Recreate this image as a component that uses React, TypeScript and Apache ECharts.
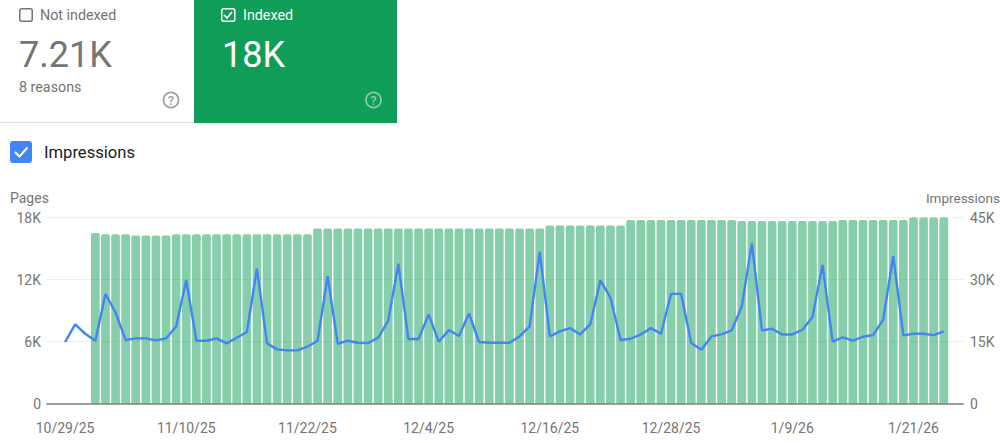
import React, { useEffect, useRef } from "react";
import * as echarts from "echarts";

const tickLabels = ["10/29/25", "11/10/25", "11/22/25", "12/4/25", "12/16/25", "12/28/25", "1/9/26", "1/21/26"];
const dayStep = 12;

const pages: (number | null)[] = [
  null, null, null, 16490, 16390, 16390, 16390, 16260, 16260, 16260, 16260, 16390, 16390, 16390, 16390, 16390,
  16390, 16390, 16390, 16390, 16390, 16390, 16390, 16390, 16390, 16940, 16940, 16940, 16940, 16940, 16940, 16940,
  16940, 16940, 16940, 16940, 16940, 16940, 16940, 16940, 16940, 16940, 16940, 16940, 16940, 16940, 16940, 16940,
  17230, 17230, 17230, 17230, 17230, 17230, 17230, 17230, 17770, 17770, 17770, 17770, 17770, 17770, 17770, 17770,
  17770, 17770, 17770, 17650, 17650, 17650, 17650, 17650, 17650, 17650, 17650, 17650, 17650, 17770, 17770, 17770,
  17770, 17770, 17770, 17770, 18000, 18000, 18000, 18000,
];

const impressions = [
  14870, 19125, 16875, 15190, 26520, 22020, 15350, 15750, 15750, 15270, 15750, 18640, 29890, 15190, 15190, 15750,
  14540, 15910, 17280, 32620, 14540, 13100, 12860, 12860, 13740, 15190, 30780, 14460, 15190, 14700, 14620, 15910,
  20010, 33830, 15590, 15590, 21540, 14950, 17760, 16310, 21780, 14870, 14700, 14700, 14700, 16230, 18640, 36720,
  16230, 17440, 18240, 16710, 19125, 29810, 25630, 15350, 15670, 16710, 18240, 16875, 26520, 26520, 14620, 13020,
  16230, 16710, 17680, 23460, 38730, 17680, 18080, 16710, 16710, 17840, 20890, 33510, 14950, 15990, 15190, 16150,
  16550, 20250, 35680, 16470, 16875, 16875, 16550, 17440,
];

const dates = impressions.map((_, i) =>
  i % dayStep === 0 ? tickLabels[i / dayStep] : `day ${i}`
);

const FONT = "Roboto";
const GREY = "#757575";
const checkPts = (x: number, y: number) => [[x + 3, y + 7], [x + 6, y + 10], [x + 11, y + 4]];

const txt = (x: number, y: number, text: string, size: number, fill: string, verticalAlign = "middle", align = "left") => ({
  type: "text", x, y,
  style: { text, fontSize: size, fontFamily: FONT, fill, verticalAlign, align },
});

export default function App() {
  const ref = useRef<HTMLDivElement>(null);
  useEffect(() => {
    document.body.style.margin = "0";
    const chart = echarts.init(ref.current!, undefined, { renderer: "svg" });
    const help = (cx: number, stroke: string) => [
      { type: "circle", shape: { cx, cy: 100, r: 7.5 }, style: { fill: "none", stroke, lineWidth: 1.7 } },
      { type: "text", x: cx, y: 100.5, style: { text: "?", fontSize: 13, fontWeight: 500, fontFamily: FONT, fill: stroke, align: "center", verticalAlign: "middle" } },
    ];
    const TOP = 217.5, BOTTOM = 39.5;
    chart.setOption({
      animation: false,
      grid: [
        // frame: gridlines, baseline and y labels span the full plot width
        { left: 47, right: 37, top: TOP, bottom: BOTTOM },
        // marks: 88 days at 10.1px each
        { left: 60, width: 888.8, top: TOP, bottom: BOTTOM },
      ],
      xAxis: [
        {
          gridIndex: 0, type: "category", data: [""], axisTick: { show: false }, axisLabel: { show: false },
          axisLine: { show: true, lineStyle: { color: "#9e9e9e", width: 2 } }, z: 1,
        },
        {
          gridIndex: 1, type: "category", data: dates, boundaryGap: true,
          axisLine: { show: false }, axisTick: { show: false },
          axisLabel: { interval: dayStep - 1, color: GREY, fontSize: 14, fontFamily: FONT, margin: 17, hideOverlap: false },
        },
      ],
      yAxis: [
        {
          gridIndex: 0, type: "value", min: 0, max: 18000, interval: 6000,
          axisLine: { show: false }, axisTick: { show: false },
          splitLine: { lineStyle: { color: "#eeeeee", width: 1 } },
          axisLabel: { color: GREY, fontSize: 14, fontFamily: FONT, margin: 6, formatter: (v: number) => (v ? v / 1000 + "K" : "0") },
        },
        {
          gridIndex: 0, position: "right", type: "value", min: 0, max: 45000, interval: 15000,
          axisLine: { show: false }, axisTick: { show: false }, splitLine: { show: false },
          axisLabel: { color: GREY, fontSize: 14, fontFamily: FONT, margin: 7, formatter: (v: number) => (v ? v / 1000 + "K" : "0") },
        },
        { gridIndex: 1, type: "value", min: 0, max: 18000, show: false },
        { gridIndex: 1, type: "value", min: 0, max: 45000, show: false },
      ],
      series: [
        {
          type: "bar", xAxisIndex: 1, yAxisIndex: 2, barWidth: 8.7,
          data: pages,
          itemStyle: { color: "#0F9D58", opacity: 0.5, borderRadius: [2, 2, 0, 0] },
          silent: true,
        },
        {
          type: "line", xAxisIndex: 1, yAxisIndex: 3, showSymbol: false, smooth: false,
          data: impressions,
          lineStyle: { color: "#4285F4", width: 2.4 },
          silent: true, z: 5,
        },
      ],
      graphic: [
        { type: "rect", shape: { x: 194, y: 0, width: 203, height: 123 }, style: { fill: "#0F9D58" } },
        { type: "line", shape: { x1: 0, y1: 122.5, x2: 194, y2: 122.5 }, style: { stroke: "#e0e0e0", lineWidth: 1 } },
        { type: "rect", shape: { x: 19.75, y: 8.75, width: 12.5, height: 12.5, r: 2 }, style: { fill: "none", stroke: GREY, lineWidth: 1.5 } },
        txt(40, 15, "Not indexed", 14.3, GREY),
        txt(19, 55, "7.21K", 36, GREY),
        txt(19, 87, "8 reasons", 14.3, GREY),
        ...help(171, "#9e9e9e"),
        { type: "rect", shape: { x: 221.75, y: 8.75, width: 13, height: 12.5, r: 2 }, style: { fill: "none", stroke: "#ffffff", lineWidth: 1.5 } },
        { type: "polyline", shape: { points: checkPts(221, 8) }, style: { fill: "none", stroke: "#ffffff", lineWidth: 1.7 } },
        txt(243, 15, "Indexed", 14.3, "#ffffff"),
        txt(222, 55, "18K", 36, "#ffffff"),
        ...help(373.5, "rgba(255,255,255,0.5)"),
        { type: "rect", shape: { x: 10, y: 141, width: 22, height: 22, r: 3 }, style: { fill: "#4285F4" } },
        { type: "polyline", shape: { points: [[15, 152], [19.5, 156.5], [27.5, 147.5]] }, style: { fill: "none", stroke: "#ffffff", lineWidth: 2 } },
        txt(44, 152.5, "Impressions", 16.6, "#202124"),
        txt(10, 198, "Pages", 14, GREY),
        txt(1000, 198, "Impressions", 13.5, GREY, "middle", "right"),
      ],
    });
    return () => chart.dispose();
  }, []);
  return <div ref={ref} style={{ width: 1000, height: 443 }} />;
}
